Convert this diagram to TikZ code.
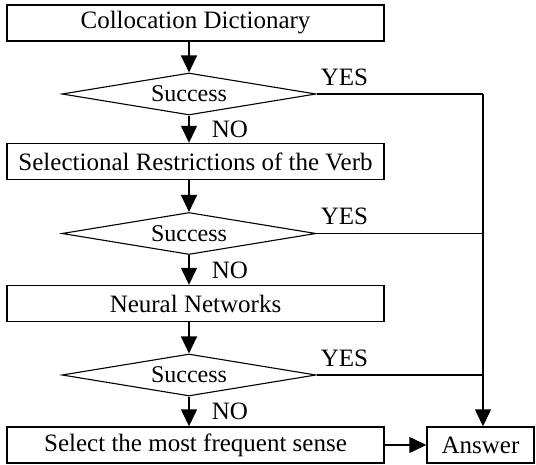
\documentclass[tikz,border=0pt]{standalone}
\usepackage{fontspec}
\setmainfont{Liberation Serif}
\usetikzlibrary{arrows.meta,shapes.geometric}
\begin{document}
\begin{tikzpicture}[x=1pt,y=-1pt,line width=1.4pt,
  txt/.style={font=\fontsize{25}{29}\selectfont},
  stepbox/.style={draw,txt,minimum width=377pt,minimum height=36pt,inner sep=0pt},
  ansbox/.style={draw,txt,minimum width=107pt,minimum height=36pt,inner sep=0pt},
  dec/.style={draw,diamond,aspect=6,font=\fontsize{24}{28}\selectfont,minimum width=254pt,minimum height=42pt,inner sep=0pt,line width=1.1pt},
  lbl/.style={txt,inner sep=0pt},
  thin line/.style={line width=1.1pt},
  arr/.style={-{Triangle[length=17pt,width=16pt]}}]
\useasboundingbox (0,0) rectangle (536,465);
\node[stepbox] (b1) at (195.5,23) {Collocation Dictionary};
\node[dec] (d1) at (189,94) {Success};
\node[stepbox] (b2) at (195.5,161.5) {Selectional Restrictions of the Verb};
\node[dec] (d2) at (189,233.5) {Success};
\node[stepbox] (b3) at (195.5,303.5) {Neural Networks};
\node[dec] (d3) at (189,375) {Success};
\node[stepbox] (b4) at (195.5,445) {Select the most frequent sense};
\node[ansbox] (ans) at (480.5,445) {Answer};
\coordinate (vx) at (483,94);
\node[lbl] (y1) at (344.5,77) {YES};
\node[lbl] (y2) at (344.5,216) {YES};
\node[lbl] (y3) at (344.5,358) {YES};
\node[lbl] (n1) at (230,129.5) {NO};
\node[lbl] (n2) at (230,270.5) {NO};
\node[lbl] (n3) at (230,411.5) {NO};
\draw[arr] (d1.north |- b1.south) -- (d1.north);
\draw[arr] (d1.south) -- (d1.south |- b2.north);
\draw[arr] (d2.north |- b2.south) -- (d2.north);
\draw[arr] (d2.south) -- (d2.south |- b3.north);
\draw[arr] (d3.north |- b3.south) -- (d3.north);
\draw[arr] (d3.south) -- (d3.south |- b4.north);
\draw[thin line] (d1.east) -- (vx);
\draw[arr] (vx) -- (vx |- ans.north);
\draw[thin line] (d2.east) -- (d2.east -| vx);
\draw[thin line] (d3.east) -- (d3.east -| vx);
\draw[arr] (b4.east) -- (ans.west);
\end{tikzpicture}
\end{document}
